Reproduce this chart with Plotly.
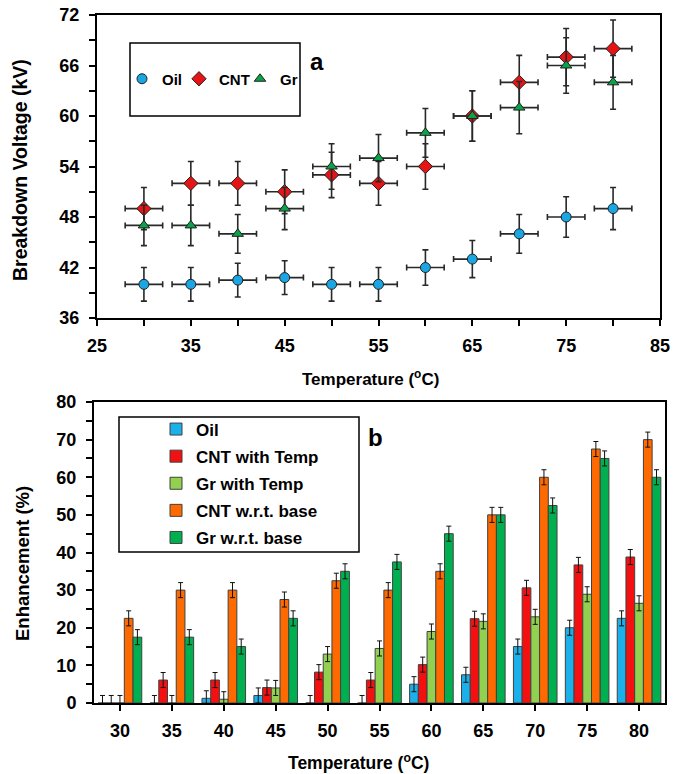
import plotly.graph_objects as go

# ---------------- data ----------------
temps = [30, 35, 40, 45, 50, 55, 60, 65, 70, 75, 80]
oil_kv = [40, 40, 40.5, 40.8, 40, 40, 42, 43, 46, 48, 49]
cnt_kv = [49, 52, 52, 51, 53, 52, 54, 60, 64, 67, 68]
gr_kv = [47, 47, 46, 49, 54, 55, 58, 60, 61, 66, 64]
oil_kv_err = [2.0, 2.0, 2.0, 2.0, 2.0, 2.0, 2.1, 2.2, 2.3, 2.4, 2.5]
cnt_kv_err = [2.5, 2.6, 2.6, 2.6, 2.7, 2.6, 2.7, 3.0, 3.2, 3.4, 3.4]
gr_kv_err = [2.4, 2.4, 2.3, 2.5, 2.7, 2.8, 2.9, 3.0, 3.1, 3.3, 3.2]
temp_err = [2, 2, 2, 2, 2, 2, 2, 2, 2, 2, 2]

categories = ["30", "35", "40", "45", "50", "55", "60", "65", "70", "75", "80"]
oil_pct = [0, 0, 1.25, 2, 0, 0, 5, 7.5, 15, 20, 22.5]
cnt_temp_pct = [0, 6.1, 6.1, 4.1, 8.2, 6.1, 10.2, 22.4, 30.6, 36.7, 38.8]
gr_temp_pct = [0, 0, 1, 4, 13, 14.5, 19, 21.7, 22.9, 28.9, 26.5]
cnt_base_pct = [22.5, 30, 30, 27.5, 32.5, 30, 35, 50, 60, 67.5, 70]
gr_base_pct = [17.5, 17.5, 15, 22.5, 35, 37.5, 45, 50, 52.5, 65, 60]
pct_err = [2, 2, 2, 2, 2, 2, 2, 2, 2, 2, 2]

top_x_ticks = [25, 35, 45, 55, 65, 75, 85]
top_y_ticks = [36, 42, 48, 54, 60, 66, 72]
bot_y_ticks = [0, 10, 20, 30, 40, 50, 60, 70, 80]

# ---------------- styling ----------------
W, H = 685, 774
FONT = "Arial, Liberation Sans, sans-serif"


def px(x):
    return x / W


def py(y):
    return 1 - y / H


fig = go.Figure()

err_col = "#282828"


def scatter(name, y, err, symbol, color, size, legend):
    return go.Scatter(
        x=temps, y=y, name=name, mode="markers",
        marker=dict(symbol=symbol, color=color, size=size,
                    line=dict(color="#202020", width=1)),
        error_y=dict(type="data", array=err, visible=True, color=err_col,
                     thickness=1.6, width=3),
        error_x=dict(type="data", array=temp_err, visible=True, color=err_col,
                     thickness=1.6, width=3),
        xaxis="x", yaxis="y", legend=legend, showlegend=True,
    )


fig.add_trace(scatter("Oil", oil_kv, oil_kv_err, "circle", "#1aa6e2", 10, "legend"))
fig.add_trace(scatter("CNT", cnt_kv, cnt_kv_err, "diamond", "#e51515", 11, "legend2"))
fig.add_trace(scatter("Gr", gr_kv, gr_kv_err, "triangle-up", "#0aa34a", 10, "legend3"))

bar_specs = [
    ("Oil", oil_pct, "#1bb0ea"),
    ("CNT with Temp", cnt_temp_pct, "#f41010"),
    ("Gr with Temp", gr_temp_pct, "#92d050"),
    ("CNT w.r.t. base", cnt_base_pct, "#ff6a00"),
    ("Gr w.r.t. base", gr_base_pct, "#00b050"),
]
for i, (name, vals, col) in enumerate(bar_specs):
    fig.add_trace(go.Bar(
        x=categories, y=vals, name=name,
        marker=dict(color=col, line=dict(color="#404040", width=1)),
        error_y=dict(type="data", array=pct_err, visible=True, color="#101010",
                     thickness=1, width=2.5),
        xaxis="x2", yaxis="y2", legend="legend4", legendgroup=f"g{i}",
    ))

axis_common = dict(
    showline=True, linecolor="black", linewidth=2, mirror=True,
    showgrid=False, zeroline=False, ticks="outside", ticklen=6, tickwidth=1.5,
    tickcolor="black", automargin=False,
    tickfont=dict(family=FONT, size=18, color="black", weight="bold"),
)

legend_font = dict(family=FONT, size=15, color="black", weight="bold")
legend_common = dict(bgcolor="rgba(0,0,0,0)", borderwidth=0, font=legend_font,
                     xanchor="left", yanchor="middle", itemwidth=30)

fig.update_layout(
    width=W, height=H, autosize=False,
    margin=dict(l=0, r=0, t=0, b=0),
    paper_bgcolor="white", plot_bgcolor="white",
    barmode="group", bargap=0.16, bargroupgap=0,
    xaxis=dict(axis_common, domain=[px(97), px(660)], range=[25, 85],
               tickvals=top_x_ticks, ticklabelstandoff=4,
               minor=dict(dtick=5, tick0=25, ticks="outside", ticklen=6,
                          tickwidth=1.5, tickcolor="black")),
    yaxis=dict(axis_common, domain=[py(318), py(15)], range=[36, 72],
               tickvals=top_y_ticks, ticklabelstandoff=6,
               minor=dict(dtick=3, tick0=36, ticks="outside", ticklen=6,
                          tickwidth=1.5, tickcolor="black")),
    xaxis2=dict(axis_common, domain=[px(94), px(665)], type="category",
                anchor="y2", ticklabelstandoff=4),
    yaxis2=dict(axis_common, domain=[py(703), py(402)], range=[0, 80],
                tickvals=bot_y_ticks, anchor="x2", ticklabelstandoff=6,
                minor=dict(dtick=5, tick0=0, ticks="outside", ticklen=6,
                           tickwidth=1.5, tickcolor="black")),
    legend=dict(legend_common, x=px(122), y=py(79)),
    legend2=dict(legend_common, x=px(179), y=py(79)),
    legend3=dict(legend_common, x=px(240), y=py(79)),
    legend4=dict(bgcolor="rgba(0,0,0,0)", borderwidth=0,
                 font=dict(family=FONT, size=17, color="black", weight="bold"),
                 xanchor="left", yanchor="top", x=px(156), y=py(411.5),
                 traceorder="grouped", tracegroupgap=2, itemwidth=30),
    shapes=[
        dict(type="rect", xref="paper", yref="paper",
             x0=px(130), x1=px(300), y0=py(116), y1=py(43),
             line=dict(color="black", width=1.5)),
        dict(type="rect", xref="paper", yref="paper",
             x0=px(119), x1=px(359), y0=py(552), y1=py(417),
             line=dict(color="black", width=1.5)),
    ],
)

ann = [
    dict(text="Breakdown Voltage (kV)", x=px(20), y=py(170), textangle=-90, size=19.5),
    dict(text="Temperature (<sup>o</sup>C)", x=px(370), y=py(378), size=17),
    dict(text="Enhancement (%)", x=px(22), y=py(564), textangle=-90, size=18.5),
    dict(text="Temperature (<sup>o</sup>C)", x=px(358), y=py(762), size=17.5),
]
annotations = []
for a in ann:
    size = a.pop("size")
    a.update(xref="paper", yref="paper", showarrow=False,
             font=dict(family=FONT, size=size, color="black", weight="bold"),
             xanchor="center", yanchor="middle")
    annotations.append(a)
for lab, x, y in [("a", 317, 62), ("b", 375, 437)]:
    annotations.append(dict(text=lab, x=px(x), y=py(y), xref="paper", yref="paper",
                            showarrow=False, xanchor="center", yanchor="middle",
                            font=dict(family=FONT, size=24, color="black",
                                      weight="bold")))
fig.update_layout(annotations=annotations)

fig.write_html("out.html")
